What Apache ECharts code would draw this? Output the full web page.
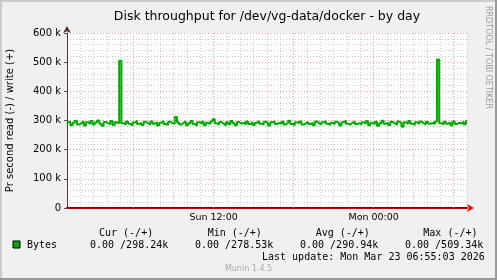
<!DOCTYPE html>
<html><head><meta charset="utf-8">
<script src="https://cdn.jsdelivr.net/npm/echarts@6/dist/echarts.min.js"></script>
<style>html,body{margin:0;padding:0;background:#f0f0f0}#c{width:497px;height:280px}</style>
</head><body><div id="c"></div>
<script>
// Time axis: hours since Sun 00:00, 10-minute samples from Sun 01:00 to Mon 07:00
const startHour = 1;
const stepHours = 1 / 6;
// write throughput (k bytes/s)
const writeK = [
  289,296,284,292,299,286,291,297,283,294,288,298,
  286,293,300,289,282,295,290,287,298,285,294,290,
  505,291,286,297,289,283,293,299,288,292,285,296,
  290,286,297,289,294,283,292,298,288,285,296,291,
  289,312,293,286,292,297,284,291,298,288,282,294,
  289,296,284,292,288,297,304,291,286,295,289,283,
  294,287,298,291,284,295,289,292,286,297,288,294,
  285,292,298,289,286,296,291,283,294,297,288,292,
  289,296,286,292,299,288,284,294,290,297,286,290,
  296,288,292,284,297,291,286,294,298,289,285,292,
  288,296,291,283,294,299,289,286,292,297,288,291,
  286,294,289,298,284,292,288,296,282,291,299,289,
  292,285,296,290,286,297,291,279,294,288,298,289,
  285,294,288,297,291,286,296,289,292,288,297,509,
  291,286,296,289,294,284,297,288,292,290,296,287,
  298
];
const readK = writeK.map(() => 0);
const xLabels = {12: 'Sun 12:00', 24: 'Mon 00:00'};
const majorHours = [6, 12, 18, 24, 30];
const titleText = 'Disk throughput for /dev/vg-data/docker - by day';
const yName = 'Pr second read (-) / write (+)';
const legendHeaders = ['Cur (-/+)', 'Min (-/+)', 'Avg (-/+)', 'Max (-/+)'];
const legendValues = ['0.00 /298.24k', '0.00 /278.53k', '0.00 /290.94k', '0.00 /509.34k'];
const seriesName = 'Bytes';
const lastUpdate = 'Last update: Mon Mar 23 06:55:03 2026';
const footer = 'Munin 1.4.5';
const sideText = 'RRDTOOL / TOBI OETIKER';

const writeData = writeK.map((v, i) => [startHour + i * stepHours, v]);
const readData = readK.map((v, i) => [startHour + i * stepHours, v]);

const mono = 'DejaVu Sans Mono';
const sans = 'DejaVu Sans';
const graphics = [
  {type:'rect', shape:{x:0,y:0,width:497,height:280}, style:{fill:'#f0f0f0'}, z:-10, silent:true},
  {type:'rect', shape:{x:0,y:0,width:2,height:280}, style:{fill:'#cbcbcb'}, z:-9},
  {type:'rect', shape:{x:0,y:0,width:497,height:2}, style:{fill:'#cbcbcb'}, z:-9},
  {type:'rect', shape:{x:0,y:278,width:497,height:2}, style:{fill:'#999999'}, z:-9},
  {type:'rect', shape:{x:495,y:0,width:2,height:280}, style:{fill:'#999999'}, z:-9},
  {type:'text', x:484, y:6, rotation:-Math.PI/2, style:{text:sideText, font:'8px '+sans, fill:'#999999', textVerticalAlign:'bottom'}},
  {type:'rect', shape:{x:13,y:241,width:7,height:7}, style:{fill:'#00aa00', stroke:'#000', lineWidth:1}},
  {type:'text', x:27, y:245, style:{text:seriesName, font:'10px '+mono, fill:'#000', textVerticalAlign:'middle'}},
  {type:'text', x:262, y:257, style:{text:lastUpdate, font:'10px '+mono, fill:'#000', textVerticalAlign:'middle'}},
  {type:'text', x:248.5, y:269, style:{text:footer, font:'8px '+sans, fill:'#aaaaaa', textAlign:'center', textVerticalAlign:'middle'}}
];
const hdrX = [99, 207.7, 315.7, 423.3];
const valX = [90, 195, 300, 405];
legendHeaders.forEach((t, i) => graphics.push({type:'text', x:hdrX[i], y:233, style:{text:t, font:'10px '+mono, fill:'#000', textVerticalAlign:'middle'}}));
legendValues.forEach((t, i) => graphics.push({type:'text', x:valX[i], y:245, style:{text:t, font:'10px '+mono, fill:'#000', textVerticalAlign:'middle'}}));

const chart = echarts.init(document.getElementById('c'), null, {renderer:'canvas'});
chart.setOption({
  animation: false,
  backgroundColor: '#f0f0f0',
  title: {text: titleText, left: 262, top: 5, textAlign: 'center',
    textStyle: {fontFamily: sans, fontSize: 12.5, fontWeight: 'normal', color: '#000'}},
  grid: {left: 67, right: 30, top: 33, bottom: 72, backgroundColor: '#ffffff', show: true, borderWidth: 0,
    containLabel: false, outerBoundsMode: 'none'},
  xAxis: {
    type: 'value', min: startHour, max: startHour + 30, interval: 1,
    axisLine: {show: true, symbol: ['none', 'arrow'], symbolSize: [6, 7], symbolOffset: [0, 7],
      lineStyle: {color: '#ff0000', width: 2}},
    axisTick: {show: false},
    axisLabel: {show: true, margin: 5, interval: 0, fontFamily: sans, fontSize: 9.5, color: '#000',
      formatter: v => xLabels[v] || ''},
    splitLine: {show: true, lineStyle: {color: '#cccccc', type: [1, 2], width: 1}}
  },
  yAxis: {
    type: 'value', min: 0, max: 600, interval: 100,
    name: yName, nameLocation: 'middle', nameGap: 52, nameRotate: 90,
    nameTextStyle: {fontFamily: sans, fontSize: 10, color: '#000'},
    axisLine: {show: true, symbol: ['none', 'arrow'], symbolSize: [6, 7], symbolOffset: [0, 7],
      lineStyle: {color: '#553333', width: 1}},
    axisTick: {show: true, length: 3, lineStyle: {color: '#555'}},
    axisLabel: {margin: 6, fontFamily: sans, fontSize: 10, color: '#000',
      formatter: v => v === 0 ? '0' : v + ' k'},
    splitLine: {show: true, lineStyle: {color: '#e8a0a0', type: [1, 2], width: 1}},
    minorTick: {show: false, splitNumber: 5},
    minorSplitLine: {show: true, lineStyle: {color: '#cccccc', type: [1, 2], width: 1}}
  },
  series: [
    {name: seriesName, type: 'line', data: writeData, showSymbol: false, z: 5, step: 'middle',
      lineStyle: {color: '#00aa00', width: 2}, itemStyle: {color: '#00aa00'},
      markLine: {silent: true, symbol: ['none', 'none'], label: {show: false},
        lineStyle: {color: '#e8a0a0', type: [1, 2], width: 1},
        data: majorHours.map(h => ({xAxis: h}))}},
    {name: 'read', type: 'line', data: readData, showSymbol: false, z: 6,
      lineStyle: {color: '#000000', width: 1}}
  ],
  graphic: graphics
});
</script></body></html>
